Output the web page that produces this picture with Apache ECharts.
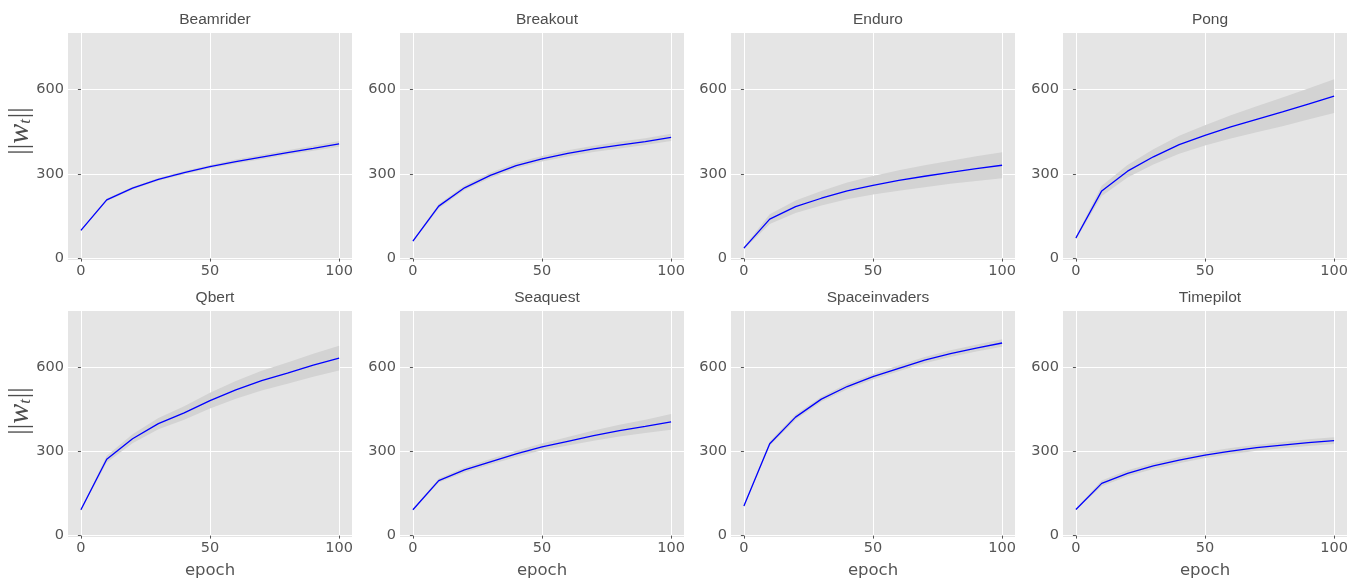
<!DOCTYPE html>
<html>
<head>
<meta charset="utf-8">
<title>Weight norm per epoch</title>
<script src="https://cdn.jsdelivr.net/npm/echarts@6/dist/echarts.min.js"></script>
<style>
  html, body { margin: 0; padding: 0; background: #ffffff; }
  #chart { width: 1361px; height: 580px; }
</style>
</head>
<body>
<div id="chart"></div>
<script>
// Training epochs shared by all panels
const epochs = [0, 10, 20, 30, 40, 50, 60, 70, 80, 90, 100];

// Panel titles (one game per panel, row by row)
const games = ['Beamrider', 'Breakout', 'Enduro', 'Pong', 'Qbert', 'Seaquest', 'Spaceinvaders', 'Timepilot'];

// Mean weight norm per epoch
const beamriderMean     = [100, 208, 250, 281, 305, 326, 344, 360, 376, 391, 407];
const breakoutMean      = [62, 186, 251, 295, 330, 354, 373, 389, 402, 415, 430];
const enduroMean        = [37, 140, 184, 214, 240, 260, 277, 292, 306, 319, 331];
const pongMean          = [73, 240, 310, 361, 404, 437, 467, 494, 520, 548, 576];
const qbertMean         = [92, 272, 345, 399, 437, 481, 519, 552, 579, 607, 632];
const seaquestMean      = [92, 196, 234, 263, 291, 316, 336, 356, 374, 389, 405];
const spaceinvadersMean = [105, 327, 422, 486, 531, 566, 596, 625, 648, 668, 686];
const timepilotMean     = [93, 186, 222, 248, 269, 287, 301, 313, 322, 331, 338];

// Half-width of the shaded spread around each mean
const beamriderSpread     = [2, 5, 5, 5, 6, 6, 7, 8, 8, 9, 10];
const breakoutSpread      = [3, 8, 8, 9, 10, 10, 11, 11, 12, 12, 13];
const enduroSpread        = [4, 17, 22, 26, 30, 33, 36, 39, 41, 44, 46];
const pongSpread          = [5, 18, 22, 27, 32, 36, 41, 46, 51, 55, 60];
const qbertSpread         = [4, 12, 16, 20, 24, 28, 32, 35, 38, 41, 44];
const seaquestSpread      = [3, 7, 9, 10, 11, 12, 15, 18, 21, 24, 28];
const spaceinvadersSpread = [3, 8, 9, 9, 10, 10, 11, 11, 12, 12, 13];
const timepilotSpread     = [3, 10, 11, 11, 11, 11, 11, 11, 11, 12, 12];

// Axis tick labels
const xTicks = [0, 50, 100];
const yTicks = [0, 300, 600];

const means   = [beamriderMean, breakoutMean, enduroMean, pongMean, qbertMean, seaquestMean, spaceinvadersMean, timepilotMean];
const spreads = [beamriderSpread, breakoutSpread, enduroSpread, pongSpread, qbertSpread, seaquestSpread, spaceinvadersSpread, timepilotSpread];

const panelLefts = [68, 400, 731, 1063];
const panelTops = [33, 311];
const panelW = 284;
const panelH = 227;

const textColor = '#555555';
const grids = [], xAxes = [], yAxes = [], series = [], titles = [];

// Shaded band drawn as one polygon through the axis scales
function bandRenderer(rows) {
  return function (params, api) {
    if (params.dataIndex !== 0) return null;
    const upper = rows.map(r => api.coord([r[0], r[2]]));
    const lower = rows.map(r => api.coord([r[0], r[1]])).reverse();
    return {
      type: 'polygon',
      shape: { points: upper.concat(lower) },
      style: { fill: '#d3d3d3' },
      silent: true
    };
  };
}

games.forEach((name, i) => {
  const row = Math.floor(i / 4), col = i % 4;
  const left = panelLefts[col], top = panelTops[row];
  grids.push({
    left: left, top: top, width: panelW, height: panelH,
    show: true, backgroundColor: '#e5e5e5', borderWidth: 0
  });
  titles.push({
    text: name,
    left: left + panelW / 2, top: top - 26,
    textAlign: 'center',
    textStyle: { fontFamily: 'Liberation Sans, Arial, sans-serif', fontSize: 15.5, fontWeight: 'normal', color: '#4d4d4d' }
  });
  xAxes.push({
    type: 'value', gridIndex: i, min: -5, max: 105,
    name: row === 1 ? 'epoch' : '',
    nameLocation: 'middle', nameGap: 25,
    nameTextStyle: { fontFamily: 'DejaVu Sans, sans-serif', fontSize: 16.5, color: textColor },
    axisLine: { show: false },
    axisTick: { show: true, customValues: xTicks, length: 3, lineStyle: { color: textColor } },
    axisLabel: { customValues: xTicks, fontFamily: 'DejaVu Sans, sans-serif', fontSize: 14.5, color: textColor, margin: 4 },
    splitLine: { show: true, lineStyle: { color: '#ffffff', width: 1 } }
  });
  yAxes.push({
    type: 'value', gridIndex: i, min: -5, max: 800,
    axisLine: { show: false },
    axisTick: { show: true, customValues: yTicks, length: 3, lineStyle: { color: textColor } },
    axisLabel: { customValues: yTicks, fontFamily: 'DejaVu Sans, sans-serif', fontSize: 14.5, color: textColor, margin: 4 },
    splitLine: { show: true, lineStyle: { color: '#ffffff', width: 1 } }
  });
  const mean = means[i], spread = spreads[i];
  const bandRows = epochs.map((e, k) => [e, mean[k] - spread[k], mean[k] + spread[k]]);
  series.push({
    type: 'custom', xAxisIndex: i, yAxisIndex: i,
    data: bandRows, encode: { x: 0, y: [1, 2] },
    renderItem: bandRenderer(bandRows), clip: true, silent: true, z: 1
  });
  series.push({
    type: 'line', xAxisIndex: i, yAxisIndex: i,
    data: epochs.map((e, k) => [e, mean[k]]),
    symbol: 'none', lineStyle: { color: '#0000ff', width: 1.3 }, z: 3
  });
});

// Rotated norm label beside each row
const normStyle = {
  text: '{b|||}{w|w}{t|t}{b|||}',
  align: 'center', verticalAlign: 'middle',
  rich: {
    b: { fontFamily: 'Liberation Serif, serif', fontSize: 27, fill: '#4d4d4d' },
    w: { fontFamily: 'Liberation Serif, serif', fontStyle: 'italic', fontSize: 30, fill: '#4d4d4d' },
    t: { fontFamily: 'Liberation Serif, serif', fontStyle: 'italic', fontSize: 17, fill: '#4d4d4d', padding: [12, 1, 0, 0] }
  }
};

const chart = echarts.init(document.getElementById('chart'), null, { renderer: 'canvas' });
chart.setOption({
  animation: false,
  backgroundColor: '#ffffff',
  title: titles,
  grid: grids,
  xAxis: xAxes,
  yAxis: yAxes,
  series: series,
  graphic: [
    { type: 'text', x: 20, y: 131, rotation: Math.PI / 2, style: normStyle },
    { type: 'text', x: 20, y: 411, rotation: Math.PI / 2, style: normStyle }
  ]
});
</script>
</body>
</html>
